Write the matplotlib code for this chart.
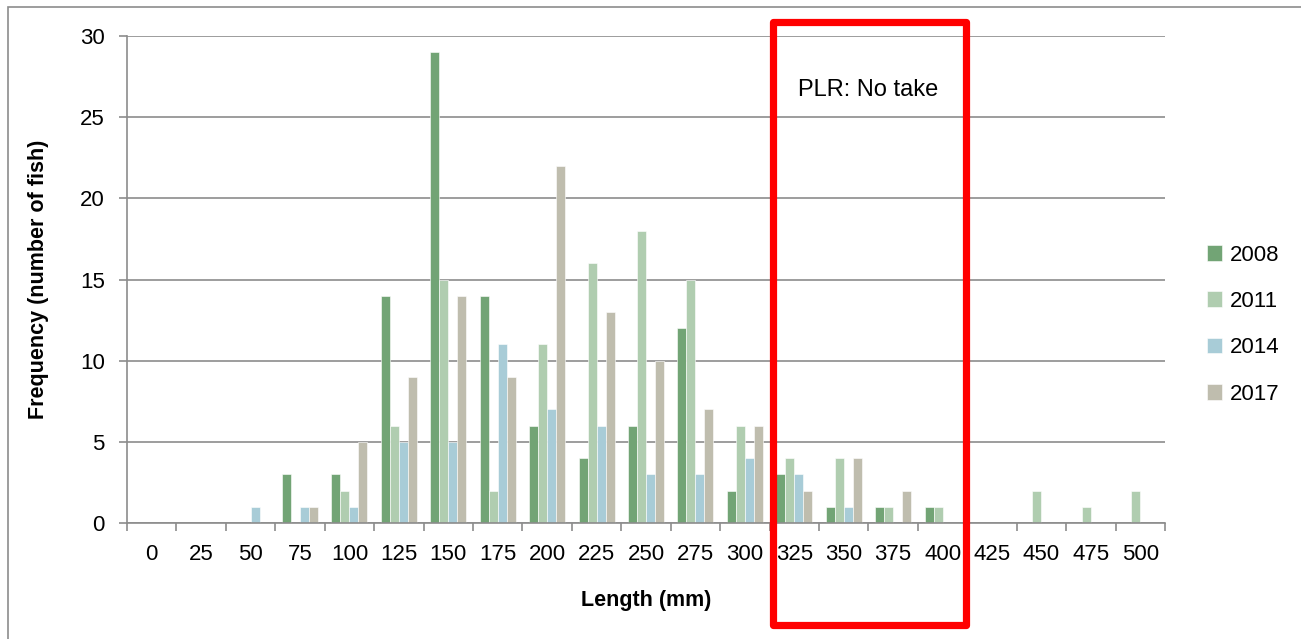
import matplotlib
matplotlib.use("Agg")
import matplotlib.pyplot as plt
import matplotlib.transforms as mtransforms
from matplotlib.patches import Rectangle
import numpy as np

plt.rcParams['font.family'] = ['Liberation Sans', 'DejaVu Sans']

lengths = ['0', '25', '50', '75', '100', '125', '150', '175', '200', '225', '250',
           '275', '300', '325', '350', '375', '400', '425', '450', '475', '500']
years = ['2008', '2011', '2014', '2017']
freq_2008 = [0, 0, 0, 3, 3, 14, 29, 14, 6, 4, 6, 12, 2, 3, 1, 1, 1, 0, 0, 0, 0]
freq_2011 = [0, 0, 0, 0, 2, 6, 15, 2, 11, 16, 18, 15, 6, 4, 4, 1, 1, 0, 2, 1, 2]
freq_2014 = [0, 0, 1, 1, 1, 5, 5, 11, 7, 6, 3, 3, 4, 3, 1, 0, 0, 0, 0, 0, 0]
freq_2017 = [0, 0, 0, 1, 5, 9, 14, 9, 22, 13, 10, 7, 6, 2, 4, 2, 0, 0, 0, 0, 0]
colors = ['#72a475', '#b0cdb0', '#a8ccd7', '#bfbdae']

grey = '#8c8c8c'

fig = plt.figure(figsize=(13.01, 6.39), dpi=100)
ax = fig.add_axes([127 / 1301, 1 - 523 / 639, (1165 - 127) / 1301, (523 - 36) / 639])

x = np.arange(len(lengths))
w = 0.182
for k, (vals, c, lab) in enumerate(zip([freq_2008, freq_2011, freq_2014, freq_2017], colors, years)):
    ax.bar(x + (k - 1.5) * w, vals, width=w, color=c, edgecolor='white',
           linewidth=0.4, label=lab, zorder=2)

ax.set_xlim(-0.5, len(lengths) - 0.5)
ax.set_ylim(0, 30)
ax.set_yticks(range(0, 31, 5))
ax.yaxis.grid(True, color=grey, linewidth=1.2, zorder=0)
ax.set_axisbelow(True)

ax.set_xticks(x)
ax.set_xticklabels(lengths)
ax.set_xticks(np.arange(-0.5, len(lengths), 1), minor=True)
ax.tick_params(axis='x', which='major', length=0, pad=15, labelsize=16)
ax.tick_params(axis='x', which='minor', length=6, width=1.2, color=grey, direction='out')
ax.tick_params(axis='y', length=6, width=1.2, color=grey, pad=10, labelsize=16)

for s in ['top', 'right']:
    ax.spines[s].set_visible(False)
for s in ['left', 'bottom']:
    ax.spines[s].set_color(grey)
    ax.spines[s].set_linewidth(1.2)

ax.set_xlabel('Length (mm)', fontsize=15.5, fontweight='bold', labelpad=18)
ax.set_ylabel('Frequency (number of fish)', fontsize=15.5, fontweight='bold', labelpad=22)

# PLR box
trans = mtransforms.blended_transform_factory(ax.transData, ax.transAxes)
box = Rectangle((12.56, -0.209), 16.48 - 12.56, 1.028 + 0.209, transform=trans,
                fill=False, edgecolor='#ff0000', linewidth=5.2, clip_on=False,
                joinstyle='round', zorder=5)
ax.add_patch(box)
ax.text(14.5, 26.7, 'PLR: No take', ha='center', va='center', fontsize=17, zorder=6)

leg = ax.legend(loc='center left', bbox_to_anchor=(0.919, 0.492),
                bbox_transform=fig.transFigure, frameon=False, fontsize=16,
                handlelength=0.7, handleheight=0.7, handletextpad=0.35,
                labelspacing=1.14, borderpad=0)

# outer frame (only top and left visible)
fig.patches.append(Rectangle((8 / 1301, -0.5), 2, 0.5 + 1 - 6.5 / 639,
                             transform=fig.transFigure, fill=False,
                             edgecolor=grey, linewidth=1.2))

fig.savefig('out.png', dpi=100)
